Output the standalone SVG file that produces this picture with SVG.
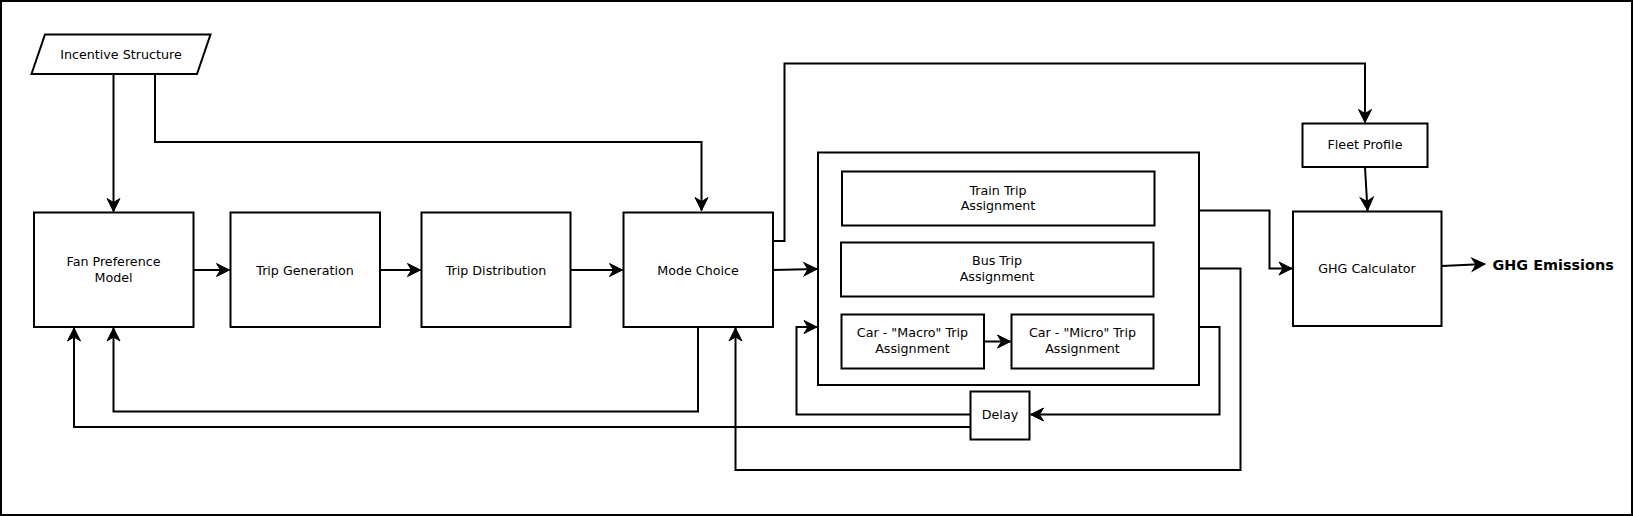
<svg xmlns="http://www.w3.org/2000/svg" width="1633" height="516" viewBox="0 0 1633 516">
<style>
.n{fill:#fff;stroke:#000;stroke-width:2}
.t{font-family:"DejaVu Sans",sans-serif;font-size:12.7px;fill:#000;text-anchor:middle;dominant-baseline:central}
.b{font-family:"DejaVu Sans",sans-serif;font-size:14.4px;font-weight:bold;fill:#000;dominant-baseline:central}
.c{fill:none;stroke:#000;stroke-width:2}
.a{marker-end:url(#ar)}
</style>
<defs>
<marker id="ar" markerUnits="userSpaceOnUse" markerWidth="16" markerHeight="16" viewBox="-14 -8 16 16" refX="0" refY="0" orient="auto" overflow="visible">
<path d="M0,0 L-13,-6.5 L-9,0 L-13,6.5 Z" fill="#000" stroke="#000" stroke-width="1"/>
</marker>
</defs>
<rect x="1" y="1" width="1631" height="514" fill="#fff" stroke="#000" stroke-width="2"/>
<g id="incentive"><polygon class="n" points="45,34.5 210.5,34.5 197,74 31.5,74"/><text class="t" x="121" y="54">Incentive Structure</text></g>
<g id="fan"><rect class="n" x="34" y="212.5" width="159.5" height="114.5"/><text class="t" x="113.5" y="261.7">Fan Preference</text><text class="t" x="113.5" y="277.7">Model</text></g>
<g id="tripgen"><rect class="n" x="230.5" y="212.5" width="149.5" height="114.5"/><text class="t" x="305" y="270">Trip Generation</text></g>
<g id="tripdist"><rect class="n" x="421.5" y="212.5" width="149" height="114.5"/><text class="t" x="496" y="270">Trip Distribution</text></g>
<g id="mode"><rect class="n" x="623.5" y="212.5" width="149.5" height="114.5"/><text class="t" x="698" y="270">Mode Choice</text></g>
<g id="assign"><rect class="n" x="818" y="152.5" width="381" height="232.5"/></g>
<g id="train"><rect class="n" x="842" y="171.5" width="312.5" height="54"/><text class="t" x="998" y="190">Train Trip</text><text class="t" x="998" y="205.7">Assignment</text></g>
<g id="bus"><rect class="n" x="841" y="242.5" width="312.5" height="54"/><text class="t" x="997" y="260.7">Bus Trip</text><text class="t" x="997" y="276.3">Assignment</text></g>
<g id="macro"><rect class="n" x="841.5" y="314.5" width="142.5" height="54"/><text class="t" x="912.5" y="332.7">Car - "Macro" Trip</text><text class="t" x="912.5" y="348.7">Assignment</text></g>
<g id="micro"><rect class="n" x="1011.5" y="314.5" width="142" height="54"/><text class="t" x="1082.5" y="332.7">Car - "Micro" Trip</text><text class="t" x="1082.5" y="348.7">Assignment</text></g>
<g id="delay"><rect class="n" x="970.5" y="391.5" width="59" height="48"/><text class="t" x="1000" y="414.5">Delay</text></g>
<g id="fleet"><rect class="n" x="1302.5" y="123.5" width="125" height="43.5"/><text class="t" x="1365" y="144.7">Fleet Profile</text></g>
<g id="ghg"><rect class="n" x="1293" y="211.5" width="148.5" height="114.5"/><text class="t" x="1367" y="268.7">GHG Calculator</text></g>
<g id="emissions"><text class="b" x="1492.5" y="265">GHG Emissions</text></g>
<g id="connectors">
<path class="c a" d="M113.5,74 V211.5"/>
<path class="c a" d="M155,74 V142 H701.5 V210.5"/>
<path class="c a" d="M193.5,270 H229.5"/>
<path class="c a" d="M380,270 H420.5"/>
<path class="c a" d="M570.5,270 H622.5"/>
<path class="c a" d="M773,270 L817,269"/>
<path class="c a" d="M773,241 H784.5 V63.5 H1365 V122.5"/>
<path class="c a" d="M1199,210.5 H1269.5 V268.5 H1292"/>
<path class="c a" d="M1199,268.5 H1240.5 V470 H735.5 V328"/>
<path class="c a" d="M1199,327 H1219.5 V414.5 H1030.5"/>
<path class="c a" d="M970.5,414.5 H796.5 V327 H817"/>
<path class="c a" d="M970.5,427 H74 V328"/>
<path class="c a" d="M698,327 V411.5 H113.5 V328"/>
<path class="c a" d="M984,341.5 H1010.5"/>
<path class="c a" d="M1365,167 L1367.5,210.5"/>
<path class="c a" d="M1441.5,266 L1485,264"/>
</g>
</svg>
